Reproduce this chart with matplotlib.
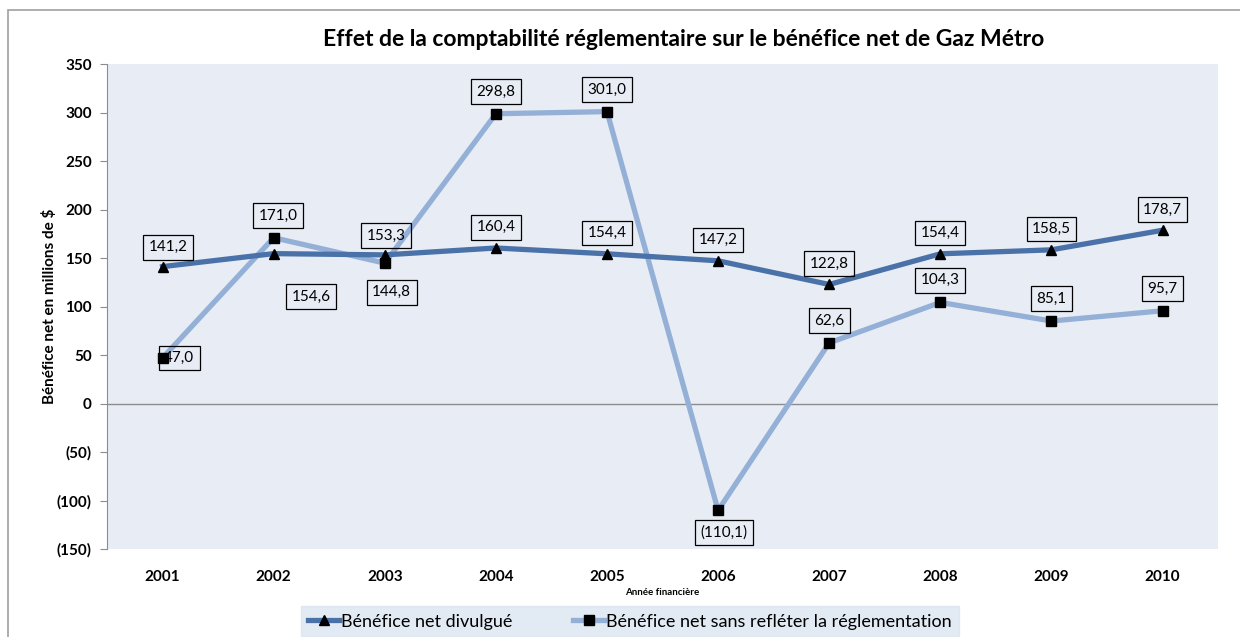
import matplotlib.pyplot as plt
from matplotlib.patches import Rectangle

plt.rcParams['font.family'] = ['Lato', 'DejaVu Sans']

years = ['2001', '2002', '2003', '2004', '2005', '2006', '2007', '2008', '2009', '2010']
divulgue = [141.2, 154.6, 153.3, 160.4, 154.4, 147.2, 122.8, 154.4, 158.5, 178.7]
sans_regl = [47.0, 171.0, 144.8, 298.8, 301.0, -110.1, 62.6, 104.3, 85.1, 95.7]

# label offsets in points (dx, dy)
off_div = [(4, 14), (27, -31), (1, 14), (0, 15), (0, 15), (0, 15), (0, 15), (0, 15), (0, 15), (0, 15)]
off_sans = [(12, 0), (3, 16), (5, -21), (0, 16), (0, 16), (4, -16), (0, 16), (0, 16), (0, 16), (0, 16)]

c_div = '#4a72a8'
c_sans = '#95b0d6'


def fmt(v):
    s = f"{abs(v):.1f}".replace('.', ',')
    return f"({s})" if v < 0 else s


def ytick(v):
    return f"({abs(int(v))})" if v < 0 else f"{int(v)}"


fig = plt.figure(figsize=(12.4, 6.37), dpi=100)
fig.patches.append(Rectangle((8 / 1240, -0.1), 1.2, 1.1 - 10 / 637, transform=fig.transFigure,
                             fill=False, edgecolor='#a0a0a0', linewidth=1.2))

ax = fig.add_axes([0.0863, 0.138, 0.896, 0.7614])
ax.set_facecolor('#e8edf5')
x = range(len(years))

ax.axhline(0, color='#8c8c8c', linewidth=1, zorder=1)
ax.plot(x, divulgue, color=c_div, linewidth=3.8, marker='^', markersize=7,
        markerfacecolor='black', markeredgecolor='black', label='Bénéfice net divulgué', zorder=3)
ax.plot(x, sans_regl, color=c_sans, linewidth=3.8, marker='s', markersize=7,
        markerfacecolor='black', markeredgecolor='black',
        label='Bénéfice net sans refléter la réglementation', zorder=2)

box = dict(boxstyle='square,pad=0.35', facecolor='none', edgecolor='black', linewidth=0.9)
for i, v in enumerate(divulgue):
    ax.annotate(fmt(v), (i, v), xytext=off_div[i], textcoords='offset points',
                ha='center', va='center', fontsize=11, bbox=box, zorder=4)
for i, v in enumerate(sans_regl):
    ax.annotate(fmt(v), (i, v), xytext=off_sans[i], textcoords='offset points',
                ha='center', va='center', fontsize=11, bbox=box, zorder=4)

ax.set_xlim(-0.5, len(years) - 0.5)
ax.set_ylim(-150, 350)
ax.set_xticks(list(x))
ax.set_xticklabels(years, fontweight='bold', fontsize=11)
yt = list(range(-150, 351, 50))
ax.set_yticks(yt)
ax.set_yticklabels([ytick(v) for v in yt], fontweight='bold', fontsize=11)
ax.tick_params(axis='x', length=0, pad=15)
ax.tick_params(axis='y', length=5, color='#8c8c8c', pad=6)

for s in ['top', 'right', 'bottom']:
    ax.spines[s].set_visible(False)
ax.spines['left'].set_color('#8c8c8c')

ax.set_ylabel('Bénéfice net en millions de $', fontweight='bold', fontsize=11, labelpad=0)
ax.set_xlabel('Année financière', fontweight='bold', fontsize=7, labelpad=3)
ax.set_title('Effet de la comptabilité réglementaire sur le bénéfice net de Gaz Métro',
             fontweight='bold', fontsize=16.5, pad=13, x=0.519)

leg = fig.legend(loc='lower center', bbox_to_anchor=(0.508, -0.014), ncol=2, fontsize=13,
                 frameon=True, fancybox=False, handlelength=1.7, handletextpad=0.1,
                 columnspacing=3.4, borderpad=0.4)
leg.get_frame().set_facecolor('#dbe5f1')
leg.get_frame().set_edgecolor('#dbe5f1')

fig.savefig('out.png', dpi=100)
